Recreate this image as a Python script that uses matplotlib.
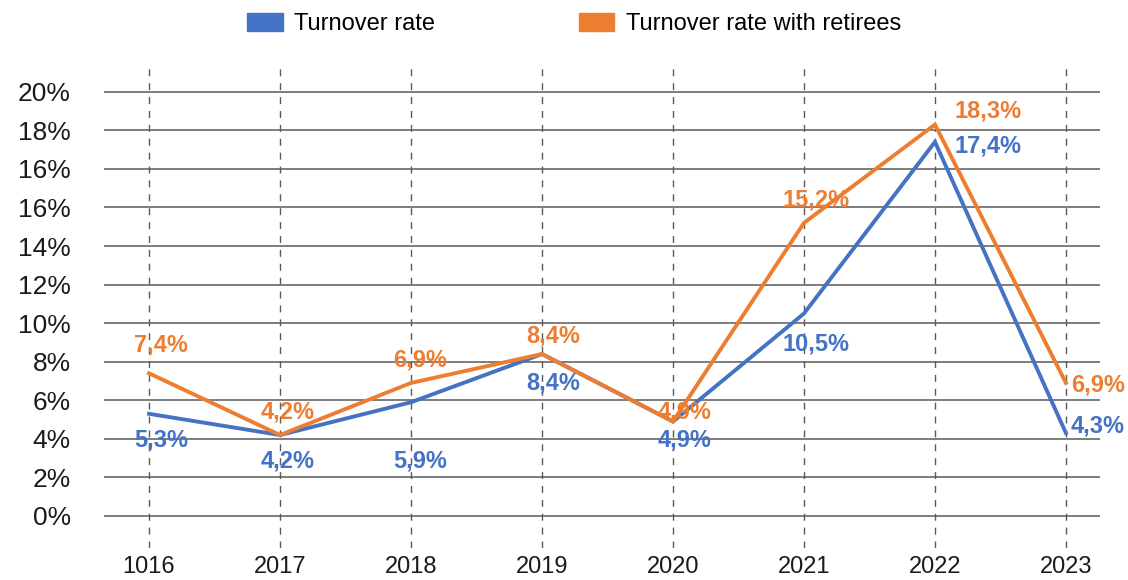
import numpy as np
import matplotlib.pyplot as plt
from matplotlib.patches import Patch

# data
years = ['1016', '2017', '2018', '2019', '2020', '2021', '2022', '2023']
turnover = [5.3, 4.2, 5.9, 8.4, 4.9, 10.5, 17.4, 4.3]
turnover_ret = [7.4, 4.2, 6.9, 8.4, 4.9, 15.2, 18.3, 6.9]
ytick_vals = [0, 2, 4, 6, 8, 10, 12, 14, 16, 16.001, 18, 20]
ytick_labels = ['0%', '2%', '4%', '6%', '8%', '10%', '12%', '14%', '16%', '16%', '18%', '20%']

blue = '#4472C4'
orange = '#ED7D31'

# label offsets in pixels (dx, dy) and alignment for each point
off_blue = [(12, -26), (8, -26), (9, -59), (11, -29), (12, -18), (12, -30), (20, -4), (5, 7)]
off_ret = [(12, 28), (8, 23), (9, 23), (11, 18), (12, 10), (12, 23), (20, 14), (5, -2)]
align = ['center'] * 6 + ['left', 'left']


# the y axis in the picture has an extra gridline: above 16% everything moves up one step
def fwd(v):
    v = np.asarray(v, dtype=float)
    return np.where(v > 16, v / 2 + 1, v / 2)


def inv(p):
    p = np.asarray(p, dtype=float)
    return np.where(p > 9, (p - 1) * 2, np.where(p > 8, 16, p * 2))


plt.rcParams['font.family'] = ['Liberation Sans', 'DejaVu Sans']

fig = plt.figure(figsize=(11.28, 5.8), dpi=100)
ax = fig.add_axes([104 / 1128, 1 - 548 / 580, 996 / 1128, 484 / 580])
ax.set_yscale('function', functions=(fwd, inv))

x = np.arange(len(years))
ax.plot(x, turnover, color=blue, lw=2.8, solid_joinstyle='miter', zorder=3)
ax.plot(x, turnover_ret, color=orange, lw=2.8, solid_joinstyle='miter', zorder=4)

for i in range(len(years)):
    ax.annotate(f'{turnover[i]:.1f}%'.replace('.', ','), (x[i], turnover[i]),
                xytext=off_blue[i], textcoords='offset pixels', ha=align[i], va='center',
                color=blue, fontsize=17, fontweight='bold', zorder=5)
    ax.annotate(f'{turnover_ret[i]:.1f}%'.replace('.', ','), (x[i], turnover_ret[i]),
                xytext=off_ret[i], textcoords='offset pixels', ha=align[i], va='center',
                color=orange, fontsize=17, fontweight='bold', zorder=5)

ax.set_xlim(-0.344, 7.26)
ax.set_ylim(-1.66, 21.44)
ax.set_xticks(x)
ax.set_xticklabels(years)
ax.set_yticks(ytick_vals)
ax.set_yticklabels(ytick_labels)
ax.tick_params(axis='both', length=0, colors='#1a1a1a')
ax.tick_params(axis='y', pad=24, labelsize=19)
ax.tick_params(axis='x', pad=6, labelsize=17)

ax.yaxis.grid(True, color='#5a5a5a', lw=1.1)
ax.xaxis.grid(True, color='#5a5a5a', lw=1.0, dashes=(5, 5))
ax.set_axisbelow(True)
for s in ax.spines.values():
    s.set_visible(False)

handles = [Patch(color=blue), Patch(color=orange)]
fig.legend(handles, ['Turnover rate', 'Turnover rate with retirees'],
           loc='center', bbox_to_anchor=(0.509, 1 - 24 / 580), ncol=2, frameon=False,
           fontsize=17, handlelength=1.5, handleheight=0.8, handletextpad=0.5,
           columnspacing=6.07)

fig.savefig('out.png', dpi=100)
